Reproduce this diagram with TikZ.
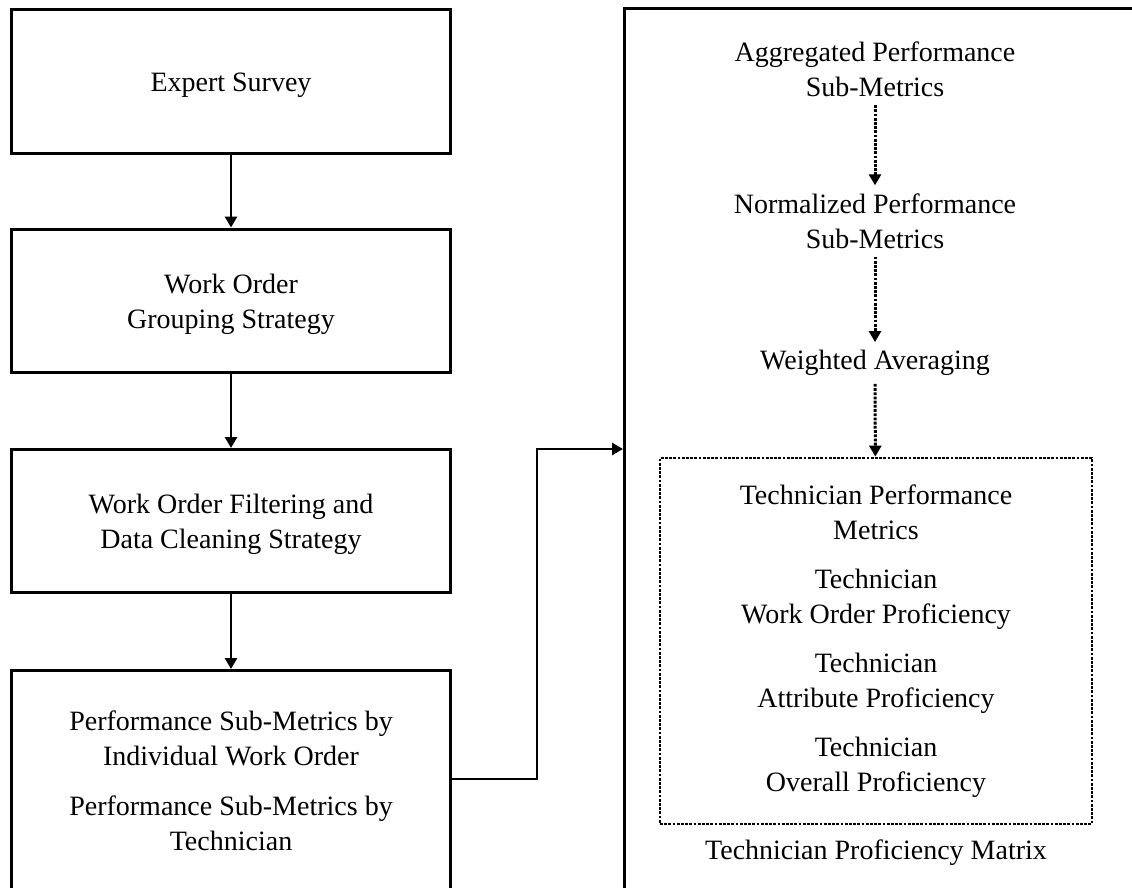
\documentclass[tikz,border=0pt]{standalone}
\usepackage{fontspec}
\setmainfont{Liberation Serif}
\usetikzlibrary{arrows.meta}
\begin{document}
\begin{tikzpicture}[x=1pt,y=-1pt,
  txt/.style={align=center, inner sep=8pt, font=\fontsize{28}{35}\selectfont},
  stepbox/.style={draw, line width=3pt, minimum width=439pt},
  groupbox/.style={draw, line width=3pt, minimum width=600pt, minimum height=900pt},
  matbox/.style={txt, draw, line width=2.8pt, dash pattern=on 2.8pt off 1.4pt,
                 minimum width=432pt, minimum height=366pt},
  arr/.style={line width=2.7pt, -{Triangle[length=11pt,width=12pt]}},
  darr/.style={line width=3pt, dash pattern=on 2.8pt off 1.4pt,
               -{Triangle[length=11pt,width=12pt]}}]
\useasboundingbox (0,0) rectangle (1132,888);
\clip (0,0) rectangle (1132,888);

% left column of process steps
\node[stepbox, minimum height=144pt] (b1) at (231,81.5) {};
\node[stepbox, minimum height=143.5pt] (b2) at (231,300.75) {};
\node[stepbox, minimum height=143pt] (b3) at (231,521) {};
\node[stepbox, minimum height=226pt] (b4) at (231,783.5) {};
\node[txt] (b1t) at (231,85.5) {Expert Survey};
\node[txt] (b2t) at (231,304.5) {Work Order\\Grouping Strategy};
\node[txt] (b3t) at (231,524.5) {Work Order Filtering and\\Data Cleaning Strategy};
\node[txt] (b4t) at (231,780.5)
  {Performance Sub-Metrics by\\Individual Work Order\\[15pt]Performance Sub-Metrics by\\Technician};

% right-hand group
\node[groupbox] (big) at (924.5,459) {};
\node[txt] (agg) at (875,69.5) {Aggregated Performance\\Sub-Metrics};
\node[txt] (norm) at (875,221) {Normalized Performance\\Sub-Metrics};
\node[txt] (wavg) at (875,363) {Weighted Averaging};
\node[matbox] (mat) at (876,641)
  {Technician Performance\\Metrics\\[14pt]Technician\\Work Order Proficiency\\[14pt]Technician\\Attribute Proficiency\\[14pt]Technician\\Overall Proficiency};
\node[txt] (matlbl) at (876,853) {Technician Proficiency Matrix};

% connectors
\draw[arr] (b1) -- (b2);
\draw[arr] (b2) -- (b3);
\draw[arr] (b3) -- (b4);
\draw[arr] ([yshift=4.5pt]b4.east) -- ++(85,0) |- ([yshift=10pt]big.west);
\draw[darr] (agg) -- (norm);
\draw[darr] (norm) -- (wavg);
\draw[darr] (wavg) -- (mat);
\end{tikzpicture}
\end{document}
